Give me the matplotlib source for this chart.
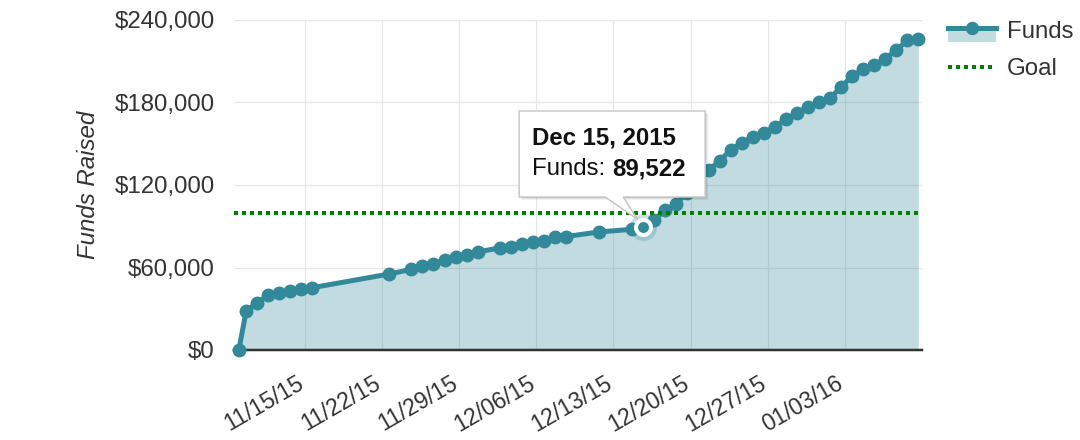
import matplotlib
matplotlib.use("Agg")
import matplotlib.pyplot as plt
import matplotlib.dates as mdates
import matplotlib.transforms as mtransforms
from matplotlib.patches import Polygon, Rectangle
from matplotlib.lines import Line2D
from matplotlib.legend_handler import HandlerBase
from matplotlib.ticker import FuncFormatter
import pandas as pd

plt.rcParams['font.family'] = ['Liberation Sans', 'DejaVu Sans']

# ---------------- data ----------------
dates_str = [
    "2015-11-09 00:00", "2015-11-09 16:00", "2015-11-10 16:00", "2015-11-11 16:00",
    "2015-11-12 16:00", "2015-11-13 16:00", "2015-11-14 16:00", "2015-11-15 16:00",
    "2015-11-22 16:00", "2015-11-24 16:00", "2015-11-25 16:00", "2015-11-26 16:00",
    "2015-11-27 16:00", "2015-11-28 16:00", "2015-11-29 16:00", "2015-11-30 16:00",
    "2015-12-02 16:00", "2015-12-03 16:00", "2015-12-04 16:00", "2015-12-05 16:00",
    "2015-12-06 16:00", "2015-12-07 16:00", "2015-12-08 16:00", "2015-12-11 16:00",
    "2015-12-14 16:00", "2015-12-15 16:00", "2015-12-16 16:00", "2015-12-17 16:00",
    "2015-12-18 16:00", "2015-12-19 16:00", "2015-12-20 16:00", "2015-12-21 16:00",
    "2015-12-22 16:00", "2015-12-23 16:00", "2015-12-24 16:00", "2015-12-25 16:00",
    "2015-12-26 16:00", "2015-12-27 16:00", "2015-12-28 16:00", "2015-12-29 16:00",
    "2015-12-30 16:00", "2015-12-31 16:00", "2016-01-01 16:00", "2016-01-02 16:00",
    "2016-01-03 16:00", "2016-01-04 16:00", "2016-01-05 16:00", "2016-01-06 16:00",
    "2016-01-07 16:00", "2016-01-08 16:00", "2016-01-09 16:00",
]
funds = [
    0, 28400, 34400, 40000, 41700, 42900, 44400, 45300,
    55300, 58700, 61300, 62500, 65500, 67400, 69400, 71300,
    74200, 75100, 77100, 78300, 79600, 82300, 82500, 85800,
    87800, 89522, 94500, 101500, 106200, 114000, 122000, 130900,
    137800, 145700, 150900, 154900, 158000, 162400, 167800, 172600,
    176700, 180000, 183100, 191500, 199100, 204100, 207300, 211800,
    218200, 225200, 226000,
]
goal = 100000
xtick_dates = ["2015-11-15", "2015-11-22", "2015-11-29", "2015-12-06",
               "2015-12-13", "2015-12-20", "2015-12-27", "2016-01-03"]
yticks = [0, 60000, 120000, 180000, 240000]
highlight = "2015-12-15 16:00"
series_names = ["Funds", "Goal"]
ylabel = "Funds Raised"

# ---------------- style ----------------
TEAL = "#32899a"
GREEN = "#008000"
TXT = "#333333"
GRID = "#e6e6e6"


def PX(p):
    return p * 0.72


FS = PX(24)
FS_X = PX(23)

dates = pd.to_datetime(dates_str)
xt = pd.to_datetime(xtick_dates)

fig = plt.figure(figsize=(10.8, 4.4), dpi=100)
ax = fig.add_axes([234 / 1080, 1 - 350 / 440, (922 - 234) / 1080, 330 / 440])

ax.fill_between(dates, funds, 0, color=TEAL, alpha=0.3, lw=0, zorder=2)
ax.plot(dates, funds, color=TEAL, lw=PX(5), marker='o', ms=PX(12.5),
        zorder=4, clip_on=False)
ax.axhline(goal, color=GREEN, lw=PX(4), ls=(0, (1, 1)), zorder=5)

ax.set_xlim(pd.Timestamp("2015-11-08 13:30"), pd.Timestamp("2016-01-10 00:00"))
ax.set_ylim(yticks[0], yticks[-1])
ax.set_xticks(xt)
ax.xaxis.set_major_formatter(mdates.DateFormatter('%m/%d/%y'))
ax.set_yticks(yticks)
ax.yaxis.set_major_formatter(FuncFormatter(lambda v, p: "${:,.0f}".format(v)))

ax.grid(True, color=GRID, lw=PX(1.2))
ax.set_axisbelow(True)
for s in ['top', 'right', 'left']:
    ax.spines[s].set_visible(False)
ax.spines['bottom'].set_color(TXT)
ax.spines['bottom'].set_linewidth(PX(2.5))

ax.tick_params(axis='y', length=0, pad=PX(19), labelsize=FS, labelcolor=TXT)
ax.tick_params(axis='x', length=0, pad=PX(37), labelsize=FS_X, labelcolor=TXT)
plt.setp(ax.get_xticklabels(), rotation=30, ha='right', va='baseline',
         rotation_mode='anchor')

ax.set_ylabel(ylabel, fontsize=FS, style='italic', color=TXT)
ax.yaxis.set_label_coords(-0.195, 0.5)

# ---------------- highlighted point + tooltip ----------------
hidx = list(dates).index(pd.Timestamp(highlight))
hx = dates[hidx]
hy = funds[hidx]
ax.plot([hx], [hy], 'o', ms=PX(27), color=TEAL, alpha=0.25, zorder=6, mew=0)
ax.plot([hx], [hy], 'o', ms=PX(15), mfc=TEAL, mec='white', mew=PX(4), zorder=7)

off = (mtransforms.Affine2D().scale(0.01) + fig.dpi_scale_trans +
       mtransforms.ScaledTranslation(mdates.date2num(hx), hy, ax.transData))
L, R, T, B = -123.7, 62.3, 115.9, 29.9
verts = [(L, B), (L, T), (R, T), (R, B), (-19.7, B), (-5.7, 7.9), (-37.7, B)]
for k, a in [(3, 0.05), (2, 0.08), (1, 0.12)]:
    sh = Polygon([(x + k, y - k) for x, y in verts], closed=True,
                 facecolor='black', alpha=a, edgecolor='none',
                 transform=off, zorder=9, clip_on=False)
    ax.add_patch(sh)
box = Polygon(verts, closed=True, facecolor='white', edgecolor='#c8c8c8',
              lw=PX(1.5), transform=off, zorder=10, clip_on=False)
ax.add_patch(box)
ax.text(-110.7, 82.9, hx.strftime('%b %d, %Y'), transform=off, fontsize=FS,
        fontweight='bold', color='#111111', ha='left', va='baseline', zorder=11)
t1 = ax.text(-110.7, 51.9, series_names[0] + ": ", transform=off, fontsize=FS,
             color='#111111', ha='left', va='baseline', zorder=11)
ax.annotate("{:,}".format(hy), xy=(1, 0), xycoords=t1, fontsize=FS,
            fontweight='bold', color='#111111', ha='left', va='bottom', zorder=11)


# ---------------- legend ----------------
class AreaLineHandler(HandlerBase):
    def create_artists(self, legend, orig_handle, xdescent, ydescent, width,
                       height, fontsize, trans):
        x0 = -xdescent
        yl = 0.42 * fontsize
        yb = -0.13 * fontsize
        rect = Rectangle((x0, yb), width, yl - yb, facecolor=TEAL, alpha=0.3,
                         edgecolor='none', transform=trans)
        line = Line2D([x0, x0 + width], [yl, yl], color=TEAL, lw=PX(5),
                      transform=trans)
        mk = Line2D([x0 + width / 2], [yl], marker='o', ms=PX(12), color=TEAL,
                    lw=0, transform=trans)
        return [rect, line, mk]


h_funds = Rectangle((0, 0), 1, 1)
h_goal = Line2D([], [], color=GREEN, lw=PX(4), ls=(0, (1, 1)))
leg = ax.legend([h_funds, h_goal], series_names,
                handler_map={Rectangle: AreaLineHandler()},
                loc='upper left', bbox_to_anchor=(948 / 1080, 1 - 21.5 / 440),
                bbox_transform=fig.transFigure, frameon=False, borderpad=0,
                borderaxespad=0, handlelength=2.0, handletextpad=0.46,
                labelspacing=0.62, fontsize=FS, labelcolor=TXT)

fig.savefig("out.png", dpi=100)
